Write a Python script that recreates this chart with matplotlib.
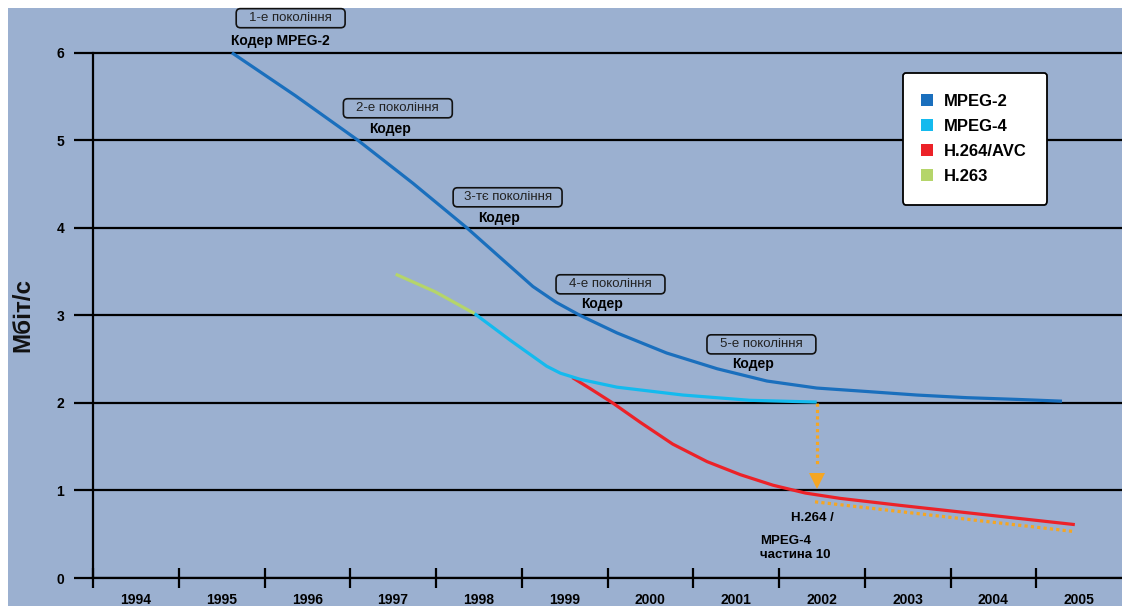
import matplotlib.pyplot as plt
from matplotlib.lines import Line2D
from matplotlib.patches import Rectangle, FancyBboxPatch
from matplotlib.ticker import FixedLocator, NullFormatter

plt.rcParams['font.family'] = ['Liberation Sans', 'DejaVu Sans']

# bitrate curves, Mbit/s by year
mpeg2_x = [1995.62, 1996.36, 1997.09, 1997.73, 1998.36, 1998.75, 1999.13, 1999.40, 1999.68,
           2000.11, 2000.69, 2001.28, 2001.86, 2002.44, 2003.03, 2003.61, 2004.19, 2004.78, 2005.30]
mpeg2_y = [6.0, 5.51, 5.0, 4.51, 4.0, 3.66, 3.33, 3.15, 3.0,
           2.80, 2.57, 2.39, 2.25, 2.17, 2.13, 2.09, 2.06, 2.04, 2.02]

h263_x = [1997.53, 1997.99, 1998.45]
h263_y = [3.47, 3.27, 3.02]

mpeg4_x = [1998.45, 1998.86, 1999.29, 1999.45, 1999.68, 2000.11, 2000.88, 2001.66, 2002.44]
mpeg4_y = [3.02, 2.72, 2.42, 2.34, 2.27, 2.18, 2.09, 2.03, 2.01]

h264_x = [1999.59, 1999.82, 2000.06, 2000.38, 2000.76, 2001.16, 2001.55, 2001.93,
          2002.31, 2002.71, 2003.41, 2005.45]
h264_y = [2.29, 2.15, 2.00, 1.78, 1.53, 1.33, 1.18, 1.06, 0.97, 0.91, 0.83, 0.61]

# step from MPEG-4 down to H.264 and the dotted H.264 trend
drop_x = [2002.44, 2002.44]
drop_y = [2.0, 1.27]
arrow_tip = (2002.44, 1.11)
trend_x = [2002.42, 2005.45]
trend_y = [0.87, 0.53]

year_labels = [str(y) for y in range(1994, 2006)]
y_ticks = [0, 1, 2, 3, 4, 5, 6]

# encoder generation notes: box position, label, caption under the box
gen_boxes = [(1995.67, 6.286), (1996.92, 5.257), (1998.20, 4.240), (1999.40, 3.246), (2001.16, 2.560)]
gen_texts = ['1-е покоління', '2-е покоління', '3-тє покоління', '4-е покоління', '5-е покоління']
gen_captions = ['Кодер MPEG-2', 'Кодер', 'Кодер', 'Кодер', 'Кодер']
gen_caption_pos = [(1996.19, 6.137), (1997.46, 5.131), (1998.73, 4.114), (1999.94, 3.131), (2001.70, 2.446)]

bg = '#9BB0D0'
c_mpeg2 = '#1A6FBD'
c_mpeg4 = '#14BAEE'
c_h264 = '#EC2228'
c_h263 = '#B5D56A'
c_orange = '#F5A623'

fig = plt.figure(figsize=(11.22, 6.06), dpi=100, facecolor='white')
fig.patches.append(Rectangle((8 / 1122, 0), 1, 1 - 8 / 606, transform=fig.transFigure,
                             facecolor=bg, edgecolor='none', zorder=-10))
ax = fig.add_axes([93 / 1122, 28 / 606, 1029 / 1122, 569 / 606])
ax.set_facecolor('none')
ax.set_xlim(1994, 2006)
ax.set_ylim(0, 6.5)

for side in ['top', 'right']:
    ax.spines[side].set_visible(False)
ax.spines['left'].set_bounds(0, 6)
ax.spines['left'].set_linewidth(1.6)
ax.spines['bottom'].set_linewidth(1.6)

ax.set_yticks(y_ticks)
ax.set_yticklabels([str(v) for v in y_ticks], fontsize=10, fontweight='bold')
ax.tick_params(axis='y', direction='out', length=13.7, width=1.6, pad=7)
ax.yaxis.grid(True, color='black', linewidth=1.6)
ax.set_axisbelow(True)

ax.xaxis.set_major_locator(FixedLocator(range(1994, 2006)))
ax.xaxis.set_major_formatter(NullFormatter())
ax.xaxis.set_minor_locator(FixedLocator([y + 0.5 for y in range(1994, 2006)]))
ax.set_xticklabels(year_labels, minor=True, fontsize=10, fontweight='bold')
ax.tick_params(axis='x', which='major', direction='inout', length=14.4, width=1.6)
ax.tick_params(axis='x', which='minor', length=0, pad=11)

lw = 2.3
ax.plot(mpeg2_x, mpeg2_y, color=c_mpeg2, lw=lw, solid_capstyle='butt', solid_joinstyle='round', zorder=4)
ax.plot(h263_x, h263_y, color=c_h263, lw=lw, solid_capstyle='butt', solid_joinstyle='round', zorder=4)
ax.plot(h264_x, h264_y, color=c_h264, lw=lw, solid_capstyle='butt', solid_joinstyle='round', zorder=4)
ax.plot(mpeg4_x, mpeg4_y, color=c_mpeg4, lw=lw, solid_capstyle='butt', solid_joinstyle='round', zorder=5)

ax.plot(drop_x, drop_y, color=c_orange, lw=2.3, ls=(0, (1, 1)), dash_capstyle='butt', zorder=3)
ax.plot(*arrow_tip, marker='v', markersize=12, color=c_orange, markeredgewidth=0, zorder=3)
ax.plot(trend_x, trend_y, color=c_orange, lw=2.3, ls=(0, (1, 1)), dash_capstyle='butt', zorder=3)

ax.text(2002.39, 0.69, 'H.264 /', ha='center', va='center', fontsize=9.5, fontweight='bold')
ax.text(2001.78, 0.42, 'MPEG-4', ha='left', va='center', fontsize=9.5, fontweight='bold')
ax.text(2001.78, 0.26, 'частина 10', ha='left', va='center', fontsize=9.5, fontweight='bold')

for (bx, by), txt, cap, (cx, cy) in zip(gen_boxes, gen_texts, gen_captions, gen_caption_pos):
    box = FancyBboxPatch((bx, by), 1.27, 0.218, boxstyle='round,pad=0,rounding_size=0.05',
                         facecolor='none', edgecolor='#111111', linewidth=1.2,
                         clip_on=False, zorder=6)
    ax.add_patch(box)
    ax.text(bx + 0.635, by + 0.109, txt, ha='center', va='center', fontsize=9.5,
            color='#222222', clip_on=False, zorder=7)
    ax.text(cx, cy, cap, ha='center', va='center', fontsize=10, fontweight='bold', zorder=7)

handles = [Line2D([], [], marker='s', ls='none', markersize=9, color=c, markeredgewidth=0)
           for c in [c_mpeg2, c_mpeg4, c_h264, c_h263]]
leg = ax.legend(handles, ['MPEG-2', 'MPEG-4', 'H.264/AVC', 'H.263'],
                loc='upper left', bbox_to_anchor=(0.787, 0.8875), borderaxespad=0,
                prop={'size': 12, 'weight': 'bold'}, frameon=True, fancybox=True,
                framealpha=1, edgecolor='black', borderpad=1.25, labelspacing=0.6,
                handlelength=0.45, handletextpad=0.75)
leg.get_frame().set_linewidth(1.3)
leg.get_frame().set_boxstyle('round,pad=0,rounding_size=0.2')
leg.set_zorder(10)

fig.text(23 / 1122, 1 - 315 / 606, 'Мбіт/с', rotation=90, ha='center', va='center',
         fontsize=17.5, fontweight='bold', color='#111111')

fig.savefig('out.png', dpi=100, facecolor='white')
